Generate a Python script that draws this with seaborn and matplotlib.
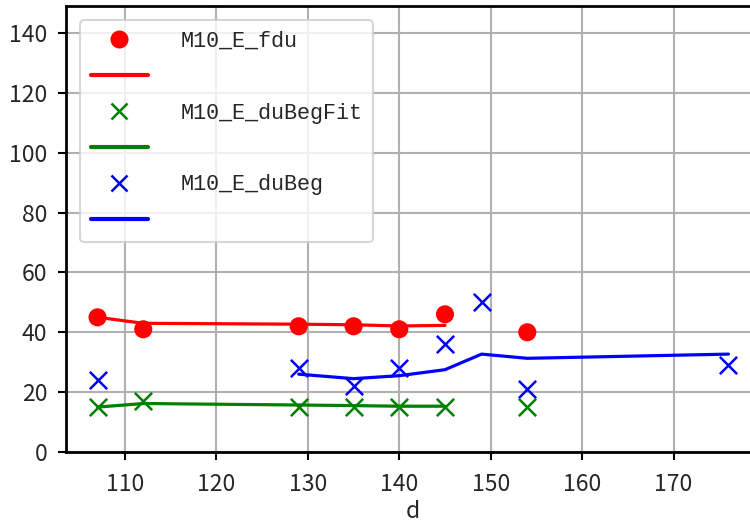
import matplotlib
matplotlib.use("Agg")
import matplotlib.pyplot as plt
import seaborn as sns
import pandas as pd
from matplotlib.lines import Line2D

# data
fdu_d = [107, 112, 129, 135, 140, 145, 154]
fdu_v = [45, 41, 42, 42, 41, 46, 40]
fdu_fit_d = [107, 112, 129, 135, 140, 145]
fdu_fit_v = [45.0, 43.0, 42.7, 42.5, 42.1, 42.3]

fit_d = [107, 112, 129, 135, 140, 145, 154]
fit_v = [15, 17, 15, 15, 15, 15, 15]
fit_fit_d = [107, 112, 129, 135, 140, 145]
fit_fit_v = [15.0, 16.2, 15.7, 15.5, 15.3, 15.3]

beg_d = [107, 129, 135, 140, 145, 149, 154, 176]
beg_v = [24, 28, 22, 28, 36, 50, 21, 29]
beg_fit_d = [129, 135, 140, 145, 149, 154, 176]
beg_fit_v = [26.0, 24.5, 25.5, 27.5, 32.7, 31.3, 32.7]

labels = ["M10_E_fdu", "M10_E_duBegFit", "M10_E_duBeg"]
xticks = [110, 120, 130, 140, 150, 160, 170]
yticks = [0, 20, 40, 60, 80, 100, 120, 140]

sns.set_theme(style="whitegrid")
plt.rcParams['font.family'] = ['Noto Sans CJK SC', 'DejaVu Sans']
plt.rcParams['axes.unicode_minus'] = False

fig = plt.figure(figsize=(7.5, 5.23), dpi=100)
ax = fig.add_axes([66/750, 71/523, (760-66)/750, (452-6)/523])

def df(x, y):
    return pd.DataFrame({"d": x, "v": y})

sns.scatterplot(data=df(fdu_d, fdu_v), x="d", y="v", ax=ax, color="red", marker="o",
                s=170, edgecolor="none", zorder=3)
sns.lineplot(data=df(fdu_fit_d, fdu_fit_v), x="d", y="v", ax=ax, color="red", lw=2.3, zorder=2)
sns.scatterplot(data=df(fit_d, fit_v), x="d", y="v", ax=ax, color="green", marker="x",
                s=155, linewidth=1.8, zorder=3)
sns.lineplot(data=df(fit_fit_d, fit_fit_v), x="d", y="v", ax=ax, color="green", lw=2.3, zorder=2)
sns.scatterplot(data=df(beg_d, beg_v), x="d", y="v", ax=ax, color="blue", marker="x",
                s=155, linewidth=1.8, zorder=3)
sns.lineplot(data=df(beg_fit_d, beg_fit_v), x="d", y="v", ax=ax, color="blue", lw=2.3, zorder=2)

ax.set_xlim(103.55, 179.45)
ax.set_ylim(0, 149)
ax.set_xticks(xticks)
ax.set_yticks(yticks)
ax.set_xlabel("d", fontsize=16.5, labelpad=3)
ax.set_ylabel("")
ax.tick_params(axis="both", labelsize=16.5, length=6, width=1.5, color="black", direction="out",
               left=True, bottom=True)
ax.tick_params(axis="x", pad=9)
ax.tick_params(axis="y", pad=7.5)
ax.grid(True, color="#b0b0b0", linewidth=1.5)
for s in ax.spines.values():
    s.set_color("black")
    s.set_linewidth(2)

handles = [
    Line2D([], [], color="red", marker="o", ls="none", markersize=13, markeredgecolor="none"),
    Line2D([], [], color="red", lw=3),
    Line2D([], [], color="green", marker="x", ls="none", markersize=12, markeredgewidth=1.8),
    Line2D([], [], color="green", lw=3),
    Line2D([], [], color="blue", marker="x", ls="none", markersize=12, markeredgewidth=1.8),
    Line2D([], [], color="blue", lw=3),
]
leg_labels = [labels[0], "", labels[1], "", labels[2], ""]
leg = ax.legend(handles, leg_labels, loc="upper left", handlelength=2.6,
                handletextpad=1.5, labelspacing=0.68, borderaxespad=0.65, frameon=True,
                framealpha=0.8, edgecolor="#cccccc", fancybox=True, borderpad=0.5,
                prop={"family": ["Liberation Mono", "DejaVu Sans"], "size": 15.7})
leg.get_frame().set_linewidth(1.5)

fig.savefig("out.png", dpi=100)
